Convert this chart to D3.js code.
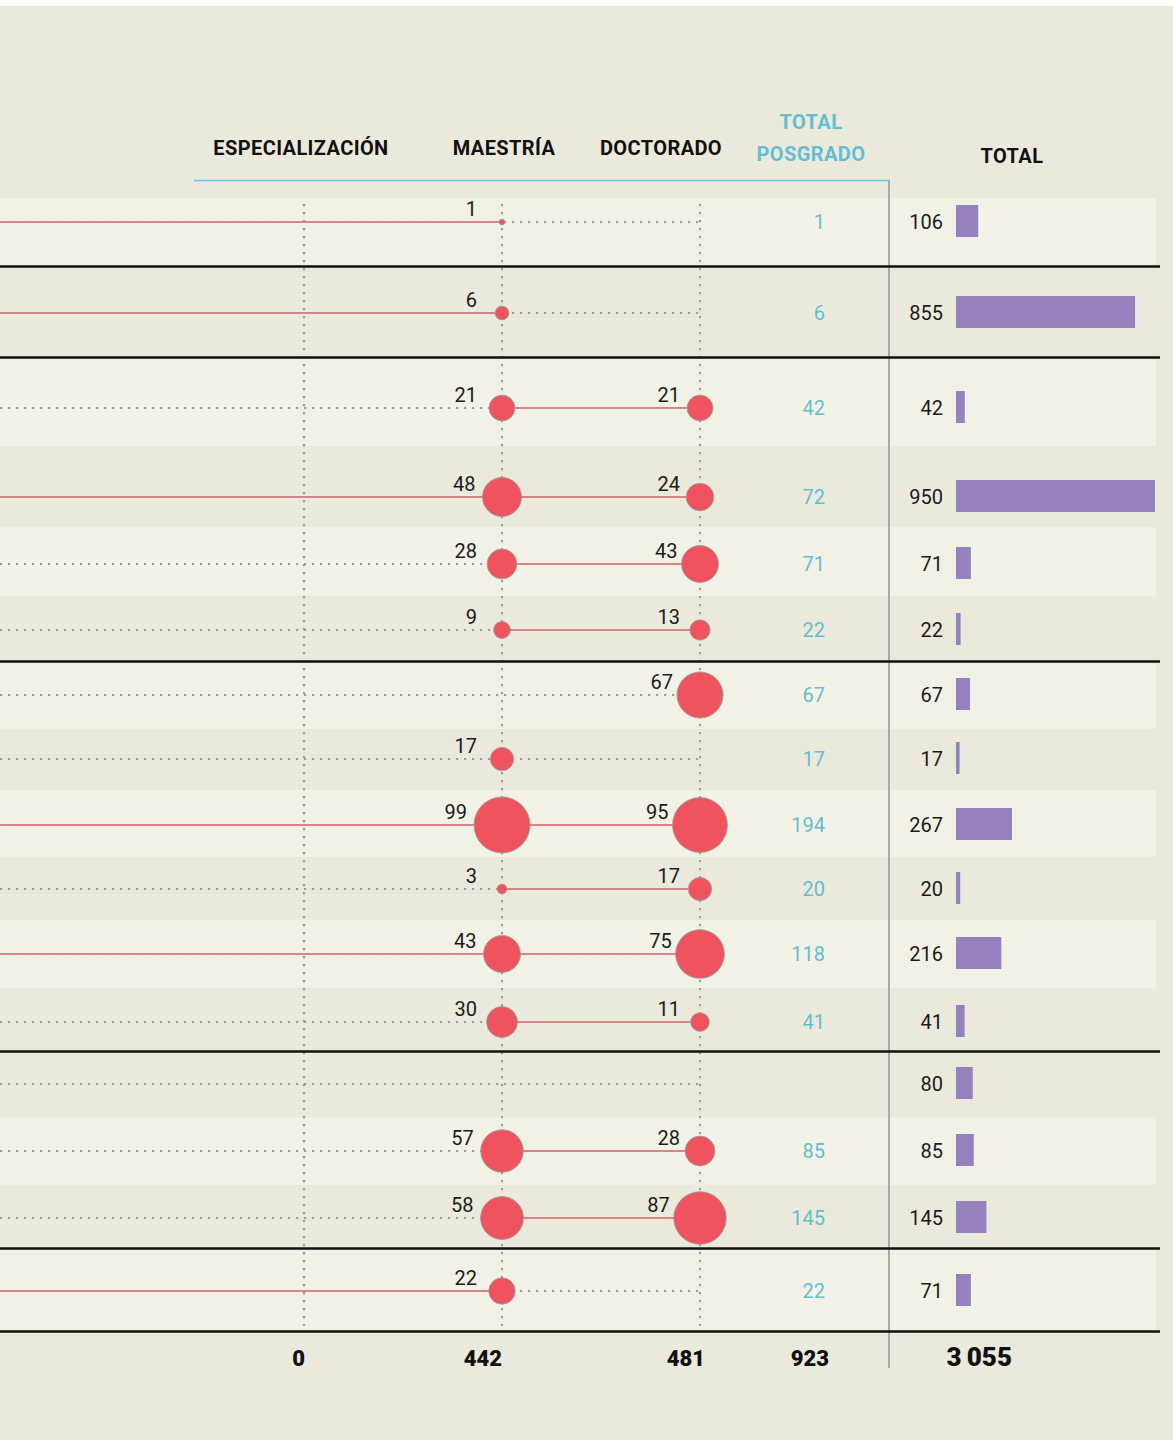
<!DOCTYPE html>
<html>
<head>
<meta charset="utf-8">
<script src="https://cdn.jsdelivr.net/npm/d3@7"></script>
<style>
	html, body { margin: 0; padding: 0; background: #fff; }
	svg { display: block; font-family: Roboto, "Noto Sans", sans-serif; }
	.head { font-weight: 700; font-size: 20px; letter-spacing: 0.4px; }
	.num { font-size: 20px; fill: #1b1b1b; }
	.tp { font-size: 20px; fill: #62bfcf; }
	.foot { font-weight: 900; font-size: 22px; fill: #111; }
</style>
</head>
<body>
<div id="chart"></div>
<script>
// data, one entry per row (top to bottom)
var levels = ["ESPECIALIZACIÓN", "MAESTRÍA", "DOCTORADO"];
var especializacion = [0,0,0,0,0,0,0,0,0,0,0,0,0,0,0,0];
var maestria  = [1, 6, 21, 48, 28, 9, null, 17, 99, 3, 43, 30, null, 57, 58, 22];
var doctorado = [null, null, 21, 24, 43, 13, 67, null, 95, 17, 75, 11, null, 28, 87, null];
var totalGeneral = [106, 855, 42, 950, 71, 22, 67, 17, 267, 20, 216, 41, 80, 85, 145, 71];

// layout of the rows (pixels)
var rowTop    = [198, 268, 359, 446, 527, 596, 663, 729, 790, 857, 920, 988, 1053, 1117, 1185, 1250],
	rowBottom = [266, 357, 446, 527, 596, 661, 729, 790, 857, 920, 988, 1051, 1117, 1185, 1248, 1331],
	rowMid    = [222, 313, 408, 497, 564, 630, 695, 759, 825, 889, 954, 1022, 1084, 1151, 1218, 1291],
	striped   = [1,0,1,0,1,0,1,0,1,0,1,0,0,1,0,1],
	groupEnds = [0, 1, 5, 11, 14, 15];

var width = 1173, height = 1440,
	bg = "#ebe9dc", band = "#f2f1e6",
	red = "#ef545e", dotCol = "#9c9c9c", teal = "#62bfcf", purple = "#9581be";

var rows = maestria.map(function (m, i) {
	var d = doctorado[i];
	var tp = (m || 0) + (d || 0) + especializacion[i];
	return { i: i, esp: especializacion[i], m: m, d: d, tp: tp, total: totalGeneral[i] };
});

var svg = d3.select("#chart").append("svg")
	.attr("width", width)
	.attr("height", height);

svg.append("rect").attr("x", 0).attr("y", 6).attr("width", width).attr("height", height - 6).attr("fill", bg);

var x = d3.scalePoint().domain(levels).range([304, 700]);
var r = d3.scaleSqrt().domain([0, 99]).range([0, 28]);
var xBar = d3.scaleLinear().domain([0, 950]).range([0, 199]);
var barX = 956, tpX = 825, totX = 943;

// row bands
svg.selectAll("rect.band")
	.data(rows.filter(function (d) { return striped[d.i]; }))
	.enter().append("rect")
	.attr("class", "band")
	.attr("x", 0)
	.attr("y", function (d) { return rowTop[d.i]; })
	.attr("width", 1156)
	.attr("height", function (d) { return rowBottom[d.i] - rowTop[d.i]; })
	.attr("fill", band);

// headers
svg.selectAll("text.lvl")
	.data(levels).enter().append("text")
	.attr("class", "head")
	.attr("x", function (d, i) { return [301, 504, 661][i]; })
	.attr("y", 155)
	.attr("text-anchor", "middle")
	.attr("fill", "#111")
	.text(function (d) { return d; });

svg.append("text").attr("class", "head").attr("x", 811).attr("y", 129)
	.attr("text-anchor", "middle").attr("fill", teal).text("TOTAL");
svg.append("text").attr("class", "head").attr("x", 811).attr("y", 161)
	.attr("text-anchor", "middle").attr("fill", teal).text("POSGRADO");
svg.append("text").attr("class", "head").attr("x", 1012).attr("y", 163)
	.attr("text-anchor", "middle").attr("fill", "#111").text("TOTAL");

svg.append("line").attr("x1", 194).attr("x2", 890).attr("y1", 180.5).attr("y2", 180.5)
	.attr("stroke", "#5ec8e4").attr("stroke-width", 1.5);
svg.append("line").attr("x1", 889).attr("x2", 889).attr("y1", 180).attr("y2", 1368)
	.attr("stroke", "#a9abab").attr("stroke-width", 2);

// red links
var links = [];
rows.forEach(function (d) {
	var first = d.m ? x("MAESTRÍA") : (d.d ? x("DOCTORADO") : null);
	if (first !== null && d.total > d.tp) links.push({ y: rowMid[d.i], x1: 0, x2: first });
	if (d.m && d.d) links.push({ y: rowMid[d.i], x1: x("MAESTRÍA"), x2: x("DOCTORADO") });
});
svg.selectAll("line.link")
	.data(links).enter().append("line")
	.attr("x1", function (d) { return d.x1; })
	.attr("x2", function (d) { return d.x2; })
	.attr("y1", function (d) { return d.y; })
	.attr("y2", function (d) { return d.y; })
	.attr("stroke", red).attr("stroke-width", 1.5);

// dotted guides
svg.selectAll("line.hguide")
	.data(rows).enter().append("line")
	.attr("x1", 0).attr("x2", x("DOCTORADO"))
	.attr("y1", function (d) { return rowMid[d.i]; })
	.attr("y2", function (d) { return rowMid[d.i]; })
	.attr("stroke", dotCol).attr("stroke-width", 2.2).attr("stroke-dasharray", "2.2,5.8");

svg.selectAll("line.vguide")
	.data(levels).enter().append("line")
	.attr("x1", function (d) { return x(d); })
	.attr("x2", function (d) { return x(d); })
	.attr("y1", 204).attr("y2", 1326)
	.attr("stroke", dotCol).attr("stroke-width", 2.2).attr("stroke-dasharray", "2.2,5.8");

// circles + labels
var pts = [];
rows.forEach(function (d) {
	if (d.esp) pts.push({ lvl: "ESPECIALIZACIÓN", v: d.esp, y: rowMid[d.i] });
	if (d.m) pts.push({ lvl: "MAESTRÍA", v: d.m, y: rowMid[d.i] });
	if (d.d) pts.push({ lvl: "DOCTORADO", v: d.d, y: rowMid[d.i] });
});

svg.selectAll("circle.pt")
	.data(pts).enter().append("circle")
	.attr("cx", function (d) { return x(d.lvl); })
	.attr("cy", function (d) { return d.y; })
	.attr("r", function (d) { return r(d.v); })
	.attr("fill", red)
	.attr("stroke", "#9c9c9c").attr("stroke-width", 0.9);

svg.selectAll("text.pt")
	.data(pts).enter().append("text")
	.attr("class", "num")
	.attr("text-anchor", "end")
	.attr("x", function (d) {
		var rr = r(d.v);
		return x(d.lvl) - (d.lvl === "DOCTORADO" ? Math.max(20, rr + 4) : Math.max(25, rr + 7));
	})
	.attr("y", function (d) { return d.y - 6; })
	.text(function (d) { return d.v; });

// total posgrado
svg.selectAll("text.tp")
	.data(rows.filter(function (d) { return d.tp > 0; })).enter().append("text")
	.attr("class", "tp")
	.attr("text-anchor", "end")
	.attr("x", tpX)
	.attr("y", function (d) { return rowMid[d.i] + 7; })
	.text(function (d) { return d.tp; });

// total bars
svg.selectAll("rect.bar")
	.data(rows).enter().append("rect")
	.attr("x", barX)
	.attr("y", function (d) { return rowMid[d.i] - 17; })
	.attr("width", function (d) { return xBar(d.total); })
	.attr("height", 32)
	.attr("fill", purple);

svg.selectAll("text.tot")
	.data(rows).enter().append("text")
	.attr("class", "num")
	.attr("text-anchor", "end")
	.attr("x", totX)
	.attr("y", function (d) { return rowMid[d.i] + 7; })
	.text(function (d) { return d.total; });

// group separators
svg.selectAll("line.sep")
	.data(groupEnds).enter().append("line")
	.attr("x1", 0).attr("x2", 1160)
	.attr("y1", function (i) { return rowBottom[i] + 0.5; })
	.attr("y2", function (i) { return rowBottom[i] + 0.5; })
	.attr("stroke", "#111").attr("stroke-width", 2.6);

// footer totals
var fmt = function (v) { return d3.format(",")(v).replace(/,/g, "\u2009"); };
var foot = [
	{ x: 305, v: d3.sum(especializacion) },
	{ x: 502, v: d3.sum(maestria) },
	{ x: 705, v: d3.sum(doctorado) },
	{ x: 829, v: d3.sum(rows, function (d) { return d.tp; }) },
	{ x: 1012, v: d3.sum(totalGeneral), big: true }
];
svg.selectAll("text.foot")
	.data(foot).enter().append("text")
	.attr("class", "foot")
	.attr("text-anchor", "end")
	.attr("x", function (d) { return d.x; })
	.attr("y", 1366)
	.style("font-size", function (d) { return d.big ? "26px" : null; })
	.text(function (d) { return fmt(d.v); });
</script>
</body>
</html>
